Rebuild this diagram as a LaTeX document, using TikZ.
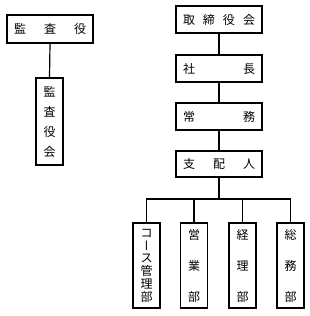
\documentclass[tikz,border=0pt]{standalone}
\usepackage{fontspec}
\setmainfont{Noto Sans CJK JP}
\newfontfamily\jpv[RawFeature=+vert]{Noto Sans CJK JP}
\newcommand{\hjust}[1]{\makebox[72pt][s]{#1}}
\newcommand{\vjust}[2]{\vbox to #1{#2}}
\tikzset{
  hbox/.style={draw, line width=1.2pt, rectangle, inner sep=0pt, minimum width=86pt, minimum height=27pt, font=\fontsize{12}{12}\selectfont},
  vbx/.style={draw, line width=1.2pt, rectangle, inner sep=0pt, minimum width=27pt, minimum height=86pt, font=\fontsize{12}{12}\selectfont},
  conn/.style={line width=1.2pt}
}
\begin{document}
\begin{tikzpicture}[x=1pt,y=-1pt]
\useasboundingbox (0,0) rectangle (310,316);
\node[hbox, minimum height=28pt] (kansa) at (50,29) {\hjust{監\hfill{}査\hfill{}役}};
\node[vbx, minimum height=87pt] (kansakai) at (49.5,121.5) {\vjust{70pt}{\hbox{監}\vfill\hbox{査}\vfill\hbox{役}\vfill\hbox{会}}};
\node[hbox] (tori) at (219,19.5) {\hjust{取\hfill{}締\hfill{}役\hfill{}会}};
\node[hbox] (shacho) at (219,68.5) {\hjust{社\hfill{}長}};
\node[hbox] (jomu) at (219,116.5) {\hjust{常\hfill{}務}};
\node[hbox, minimum height=26pt] (shihai) at (219,164) {\hjust{支\hfill{}配\hfill{}人}};
\node[vbx, minimum height=85pt] (b1) at (146.5,265.5) {\vjust{72pt}{\hbox{コ}\vfill\hbox{\jpv ー}\vfill\hbox{ス}\vfill\hbox{管}\vfill\hbox{理}\vfill\hbox{部}}};
\node[vbx, minimum height=85pt] (b2) at (194,265.5) {\vjust{72pt}{\hbox{営}\vfill\hbox{業}\vfill\hbox{部}}};
\node[vbx, minimum height=85pt] (b3) at (242.5,265.5) {\vjust{72pt}{\hbox{経}\vfill\hbox{理}\vfill\hbox{部}}};
\node[vbx, minimum height=85pt] (b4) at (290.5,265.5) {\vjust{72pt}{\hbox{総}\vfill\hbox{務}\vfill\hbox{部}}};
\coordinate (j) at (219,199);
\draw[conn] (kansa.south) -- (kansakai.north);
\draw[conn] (tori.south) -- (shacho.north);
\draw[conn] (shacho.south) -- (jomu.north);
\draw[conn] (jomu.south) -- (shihai.north);
\draw[conn] (shihai.south) -- (j);
\draw[conn] (b1.north) -- (b1.north |- j) -- (b4.north |- j) -- (b4.north);
\draw[conn] (b2.north) -- (b2.north |- j);
\draw[conn] (b3.north) -- (b3.north |- j);
\end{tikzpicture}
\end{document}
